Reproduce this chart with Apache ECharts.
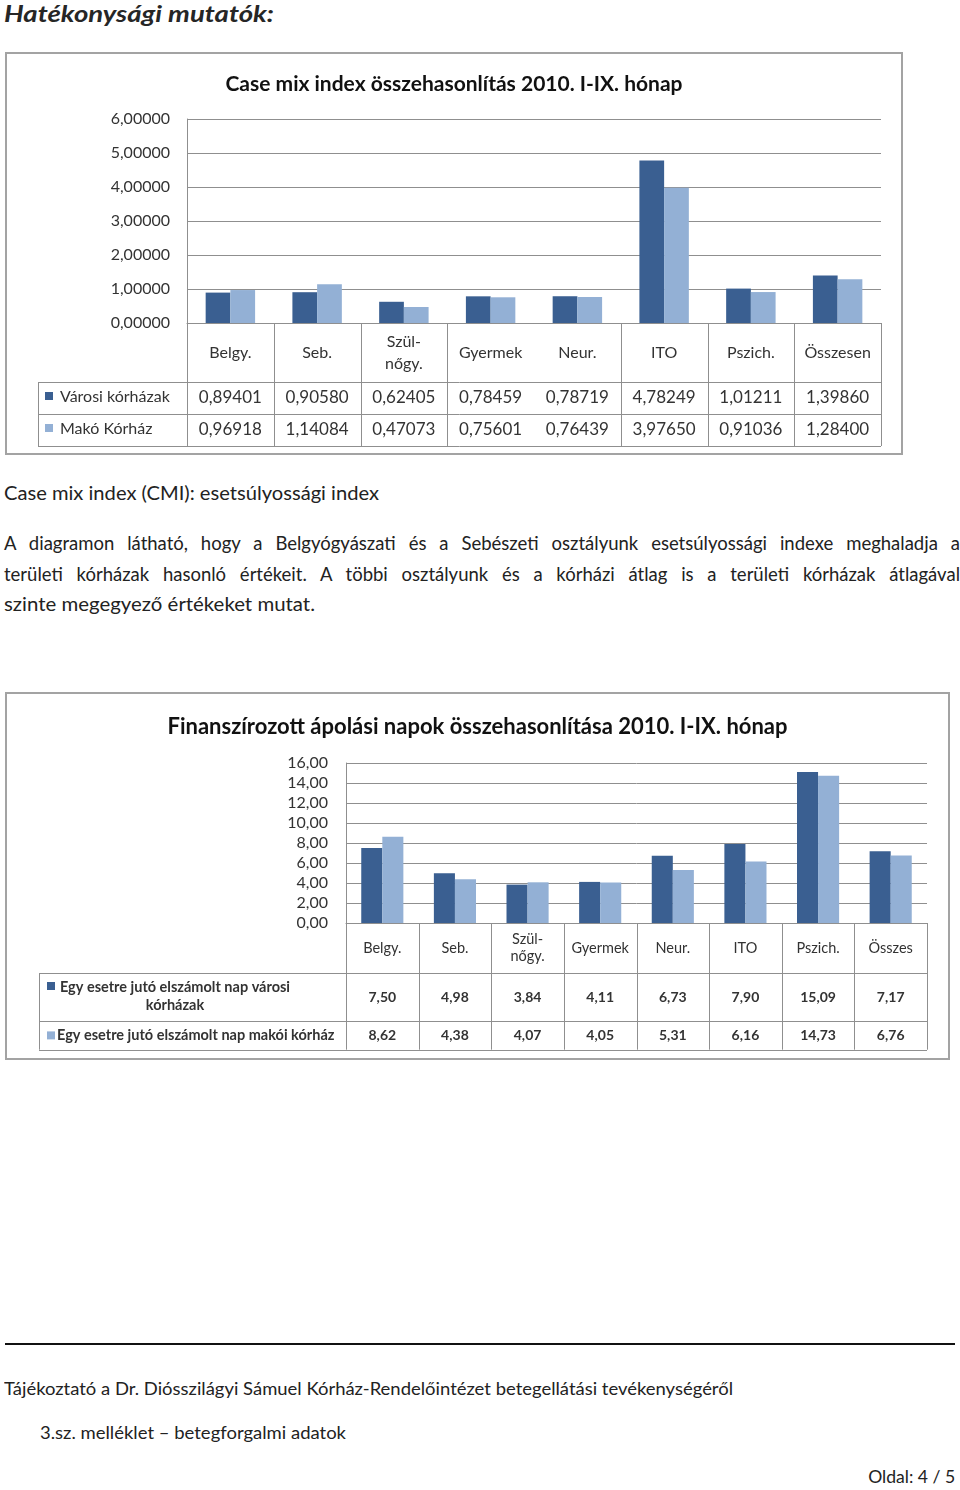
<!DOCTYPE html>
<html>
<head>
<meta charset="utf-8">
<script src="https://cdn.jsdelivr.net/npm/echarts@6/dist/echarts.min.js"></script>
<style>
  body { margin: 0; width: 960px; height: 1490px; position: relative; background: #fff;
         font-family: Lato, "Noto Sans", sans-serif; color: #222; overflow: hidden; }
  .t { position: absolute; white-space: nowrap; transform-origin: left center; }
  .j { position: absolute; left: 4px; width: 956px; white-space: nowrap; font-size: 18.5px;
       line-height: 30px; text-align: justify; text-align-last: justify; }
  .box { position: absolute; border: 2px solid #a3a3a3; box-sizing: border-box; pointer-events: none; }
  .chart { position: absolute; }
</style>
</head>
<body>
<div class="t" style="left:4px;top:0;font-size:23px;line-height:26px;font-weight:bold;font-style:italic;color:#262626" data-w="270">Hatékonysági mutatók:</div>

<div id="cmi" class="chart" style="left:5px;top:52px;width:898px;height:403px"></div>
<div class="box" style="left:5px;top:52px;width:898px;height:403px"></div>

<div class="t" style="left:4px;top:478px;font-size:18.5px;line-height:30px" data-w="375">Case mix index (CMI): esetsúlyossági index</div>
<div class="j" style="top:528px">A diagramon látható, hogy a Belgyógyászati és a Sebészeti osztályunk esetsúlyossági indexe meghaladja a</div>
<div class="j" style="top:559px">területi kórházak hasonló értékeit. A többi osztályunk és a kórházi átlag is a területi kórházak átlagával</div>
<div class="t" style="left:4px;top:589px;font-size:18.5px;line-height:30px" data-w="311">szinte megegyező értékeket mutat.</div>

<div id="napok" class="chart" style="left:5px;top:692px;width:945px;height:368px"></div>
<div class="box" style="left:5px;top:692px;width:945px;height:368px"></div>

<div style="position:absolute;left:5px;top:1343px;width:950px;height:2px;background:#111"></div>
<div class="t" style="left:4px;top:1375px;font-size:17px;line-height:28px" data-w="729">Tájékoztató a Dr. Diósszilágyi Sámuel Kórház-Rendelőintézet betegellátási tevékenységéről</div>
<div class="t" style="left:40px;top:1419px;font-size:17px;line-height:28px" data-w="306">3.sz. melléklet – betegforgalmi adatok</div>
<div class="t" id="oldal" style="top:1463px;font-size:17px;line-height:28px;transform-origin:right center" data-w="87">Oldal: 4 / 5</div>

<script>
// Case mix index 2010. I-IX.
const cmiCats = ['Belgy.', 'Seb.', 'Szül-\nnőgy.', 'Gyermek', 'Neur.', 'ITO', 'Pszich.', 'Összesen'];
const cmiVarosi = [0.89401, 0.90580, 0.62405, 0.78459, 0.78719, 4.78249, 1.01211, 1.39860];
const cmiMako = [0.96918, 1.14084, 0.47073, 0.75601, 0.76439, 3.97650, 0.91036, 1.28400];
const cmiNames = ['Városi kórházak', 'Makó Kórház'];

// Finanszírozott ápolási napok 2010. I-IX.
const napCats = ['Belgy.', 'Seb.', 'Szül-\nnőgy.', 'Gyermek', 'Neur.', 'ITO', 'Pszich.', 'Összes'];
const napVarosi = [7.50, 4.98, 3.84, 4.11, 6.73, 7.90, 15.09, 7.17];
const napMako = [8.62, 4.38, 4.07, 4.05, 5.31, 6.16, 14.73, 6.76];
const napNames = ['Egy esetre jutó elszámolt nap városi\nkórházak', 'Egy esetre jutó elszámolt nap makói kórház'];

const FONT = 'Lato, "Noto Sans", sans-serif';
const DARK = '#3a5f91';
const LIGHT = '#93b0d5';
const LINE = '#8f8f8f';

// magyar tizedesvessző
const fmt = (v, d) => v.toFixed(d).replace('.', ',');

function makeChart(dom, c) {
  const chart = echarts.init(dom);
  chart.setOption({
    animation: false,
    title: {
      text: c.title, left: 'center', top: c.titleTop,
      textStyle: { fontFamily: FONT, fontSize: c.titleSize, fontWeight: 'bold', color: '#111' }
    },
    grid: { left: c.grid[0], top: c.grid[1], width: c.grid[2], height: c.grid[3] },
    xAxis: {
      type: 'category', data: c.cats,
      axisLine: { lineStyle: { color: LINE } },
      axisTick: { show: false },
      axisLabel: {
        interval: 0, margin: c.headH / 2, verticalAlign: 'middle',
        fontFamily: FONT, fontSize: c.catSize, lineHeight: c.catLH, color: '#333', fontWeight: c.catWeight
      }
    },
    yAxis: {
      type: 'value', min: 0, max: c.max, interval: c.step,
      axisLine: { show: true, lineStyle: { color: LINE } },
      axisTick: { show: false },
      splitLine: { lineStyle: { color: LINE } },
      axisLabel: {
        formatter: v => fmt(v, c.dec), margin: c.yMargin,
        fontFamily: FONT, fontSize: c.ySize, color: '#333'
      }
    },
    series: [
      { type: 'bar', name: c.names[0], data: c.s1, itemStyle: { color: DARK }, barGap: '0%', barCategoryGap: c.gap },
      { type: 'bar', name: c.names[1], data: c.s2, itemStyle: { color: LIGHT }, barGap: '0%', barCategoryGap: c.gap }
    ]
  });

  // adattábla a tengely alatt
  const x0 = chart.convertToPixel({ xAxisIndex: 0 }, 0);
  const bw = chart.convertToPixel({ xAxisIndex: 0 }, 1) - x0;
  const left = x0 - bw / 2;
  const right = left + bw * c.cats.length;
  const y0 = chart.convertToPixel({ yAxisIndex: 0 }, 0);
  const r1 = y0 + c.headH, r2 = r1 + c.rowH[0], r3 = r2 + c.rowH[1];
  const els = [];
  const line = (xa, ya, xb, yb) => els.push({
    type: 'line', shape: { x1: xa, y1: ya, x2: xb, y2: yb }, style: { stroke: LINE, lineWidth: 1 }
  });
  for (let i = 0; i <= c.cats.length; i++) {
    if (c.skip && c.skip.includes(i)) continue;
    const x = Math.round(left + bw * i) + 0.5;
    line(x, y0, x, r3);
  }
  [r1, r2, r3].forEach(y => line(c.tableLeft, Math.round(y) + 0.5, right, Math.round(y) + 0.5));
  line(c.tableLeft + 0.5, r1, c.tableLeft + 0.5, r3);

  const rows = [[c.s1, DARK, r1, r2], [c.s2, LIGHT, r2, r3]];
  rows.forEach(([vals, color, ya, yb], k) => {
    const yc = (ya + yb) / 2 + c.valDy;
    const lg = c.legend[k];
    els.push({ type: 'rect', shape: { x: c.keyX, y: ya + lg.keyDy, width: 8, height: 8 }, style: { fill: color } });
    els.push({
      type: 'text', x: lg.x, y: (ya + yb) / 2 + lg.dy,
      style: {
        text: c.names[k], align: lg.align, verticalAlign: 'middle', fill: '#333',
        font: `${c.legWeight} ${c.legSize}px ${FONT}`, lineHeight: lg.lh
      }
    });
    vals.forEach((v, i) => els.push({
      type: 'text', x: left + bw * (i + 0.5), y: yc,
      style: {
        text: fmt(v, c.dec), align: 'center', verticalAlign: 'middle', fill: '#333',
        font: `${c.valWeight} ${c.valSize}px ${FONT}`
      }
    }));
  });
  chart.setOption({ graphic: els });
}

makeChart(document.getElementById('cmi'), {
  title: 'Case mix index összehasonlítás 2010. I-IX. hónap', titleTop: 17, titleSize: 21,
  grid: [182, 67, 694, 204], cats: cmiCats, s1: cmiVarosi, s2: cmiMako, names: cmiNames,
  max: 6, step: 1, dec: 5, gap: '43%', yMargin: 17, ySize: 16,
  catSize: 16, catLH: 22, catWeight: 'normal', headH: 59, rowH: [32, 32], skip: [4],
  tableLeft: 33, keyX: 40, valDy: 0, valSize: 17, valWeight: 'normal', legSize: 16, legWeight: 'normal',
  legend: [{ x: 55, dy: -1, align: 'left', lh: 18, keyDy: 10 }, { x: 55, dy: -1, align: 'left', lh: 18, keyDy: 10 }]
});

makeChart(document.getElementById('napok'), {
  title: 'Finanszírozott ápolási napok összehasonlítása 2010. I-IX. hónap', titleTop: 19, titleSize: 22,
  grid: [341, 71, 581, 160], cats: napCats, s1: napVarosi, s2: napMako, names: napNames,
  max: 16, step: 2, dec: 2, gap: '42%', yMargin: 18, ySize: 16,
  catSize: 14.5, catLH: 17, catWeight: 'normal', headH: 50, rowH: [48.4, 28.3],
  tableLeft: 34, keyX: 42, valDy: 0, valSize: 14, valWeight: 'bold', legSize: 14.5, legWeight: 'bold',
  legend: [{ x: 170, dy: -1, align: 'center', lh: 18, keyDy: 9 }, { x: 52, dy: 0, align: 'left', lh: 18, keyDy: 10 }]
});

// szövegsorok szélességének igazítása
document.querySelectorAll('[data-w]').forEach(el => {
  const w = el.getBoundingClientRect().width;
  el.style.transform = `scaleX(${(+el.dataset.w / w).toFixed(4)})`;
});
const od = document.getElementById('oldal');
od.style.left = (958 - od.getBoundingClientRect().width) + 'px';
</script>
</body>
</html>
